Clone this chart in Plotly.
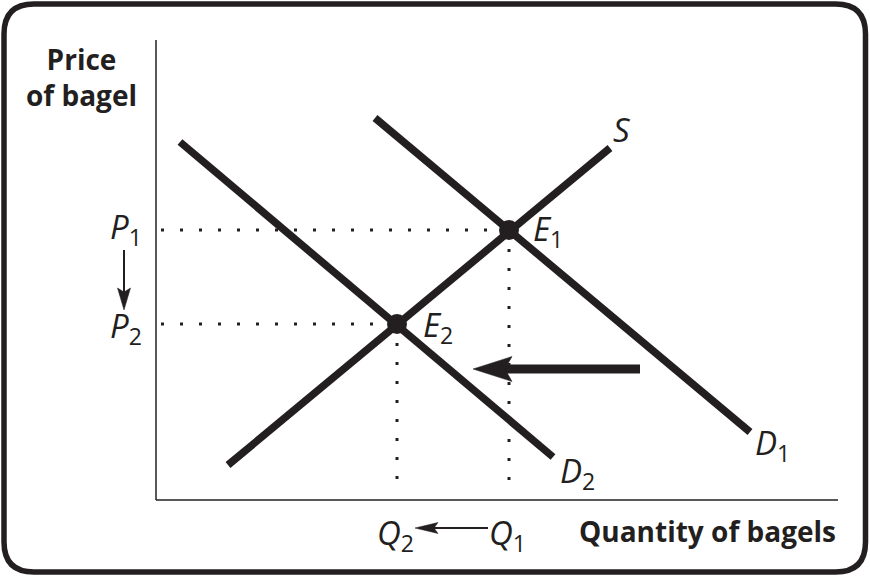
import math
import plotly.graph_objects as go

# ---------------- data (quantity, price in chart units) ----------------
supply_q = [1.44, 9.08]
supply_p = [0.70, 7.04]
demand1_q = [4.38, 11.88]
demand1_p = [7.64, 1.36]
demand2_q = [0.48, 7.94]
demand2_p = [7.16, 0.86]
eq_names = ["E1", "E2"]
eq_q = [7.06, 4.82]
eq_p = [5.40, 3.52]
price_labels = ["P1", "P2"]
quantity_labels = ["Q1", "Q2"]
shift_from_q = 9.68
shift_to_q = 6.34
shift_p = 2.62

# ---------------- layout helpers ----------------
W, H = 870, 577
K = 50.0            # pixels per unit
OX, OY = 156, 500   # pixel position of the origin
INK = "#231f20"

def dx(px):
    return (px - OX) / K

def dy(py):
    return (OY - py) / K

X_RANGE = [dx(0), dx(W)]
Y_RANGE = [dy(H), dy(0)]

fig = go.Figure()

def add_line(xs, ys, width, dash=None):
    fig.add_trace(go.Scatter(x=xs, y=ys, mode="lines", hoverinfo="skip",
                             line=dict(color=INK, width=width, dash=dash)))

def add_arrow(x0, y0, x1, y1, shaft_px, head_len, head_half, notch):
    L = math.hypot(x1 - x0, y1 - y0)
    ux, uy = (x1 - x0) / L, (y1 - y0) / L
    nx, ny = -uy, ux
    sx, sy = x1 - (head_len - notch) * ux, y1 - (head_len - notch) * uy
    bx, by = x1 - head_len * ux, y1 - head_len * uy
    add_line([x0, sx], [y0, sy], shaft_px)
    fig.add_trace(go.Scatter(
        x=[x1, bx + head_half * nx, sx, bx - head_half * nx, x1],
        y=[y1, by + head_half * ny, sy, by - head_half * ny, y1],
        mode="lines", fill="toself", fillcolor=INK,
        line=dict(color=INK, width=0.5), hoverinfo="skip"))

# dotted guide lines
DOT = "3px,16px"
for q, p in zip(eq_q, eq_p):
    add_line([dx(161), q], [p, p], 3, DOT)
    add_line([q, q], [p, dy(490)], 3, DOT)

# curves
add_line(supply_q, supply_p, 7.5)
add_line(demand1_q, demand1_p, 7.5)
add_line(demand2_q, demand2_p, 7.5)

# equilibrium points
fig.add_trace(go.Scatter(x=eq_q, y=eq_p, mode="markers", hoverinfo="skip",
                         marker=dict(size=20, color=INK)))

# shift arrow
add_arrow(shift_from_q, shift_p, shift_to_q, shift_p, 9, 0.78, 0.25, 0.14)
# price fall arrow
add_arrow(dx(124), dy(250), dx(124), dy(310), 2, 0.44, 0.13, 0.08)
# quantity fall arrow
add_arrow(dx(488), dy(528), dx(415), dy(528), 2, 0.46, 0.11, 0.08)

# axes lines
fig.add_shape(type="line", x0=0, y0=0, x1=0, y1=dy(40),
              line=dict(color=INK, width=1.5))
fig.add_shape(type="line", x0=0, y0=0, x1=dx(838), y1=0,
              line=dict(color=INK, width=1.5))

# rounded frame (paper coords)
def pxp(px):
    return px / W

def pyp(py):
    return 1 - py / H

l, r, t, b, rad = 4, 865.5, 4, 572, 30
frame_path = (
    f"M {pxp(l+rad)},{pyp(t)} L {pxp(r-rad)},{pyp(t)} "
    f"Q {pxp(r)},{pyp(t)} {pxp(r)},{pyp(t+rad)} "
    f"L {pxp(r)},{pyp(b-rad)} Q {pxp(r)},{pyp(b)} {pxp(r-rad)},{pyp(b)} "
    f"L {pxp(l+rad)},{pyp(b)} Q {pxp(l)},{pyp(b)} {pxp(l)},{pyp(b-rad)} "
    f"L {pxp(l)},{pyp(t+rad)} Q {pxp(l)},{pyp(t)} {pxp(l+rad)},{pyp(t)} Z"
)
fig.add_shape(type="path", path=frame_path, xref="paper", yref="paper",
              line=dict(color=INK, width=5.5))

FONT = "Open Sans"

def label(text, x, y, xanchor="left", size=33, bold=False, italic=False, align="left"):
    fig.add_annotation(x=x, y=y, xref="x", yref="y", text=text, showarrow=False,
                       xanchor=xanchor, yanchor="middle", align=align,
                       font=dict(family=FONT, size=size, color=INK,
                                 weight="bold" if bold else "normal",
                                 style="italic" if italic else "normal"))

def sub(name):
    if len(name) > 1:
        return f"<i>{name[0]}</i><sub>{name[1:]}</sub>"
    return f"<i>{name}</i>"

label(sub("S"), dx(611), dy(129))
label(sub("D1"), dx(753), dy(444))
label(sub("D2"), dx(558), dy(472))
label(sub(eq_names[0]), dx(531), dy(230))
label(sub(eq_names[1]), dx(421), dy(326))
label(sub(price_labels[0]), dx(108), dy(228))
label(sub(price_labels[1]), dx(108), dy(327))
label(sub(quantity_labels[1]), dx(375), dy(534))
label(sub(quantity_labels[0]), dx(487), dy(534))
label("Price<br>of bagel", dx(81), dy(77), xanchor="center", size=28, bold=True, align="center")
label("Quantity of bagels", dx(838), dy(531), xanchor="right", size=28, bold=True)

fig.update_layout(
    width=W, height=H, margin=dict(l=0, r=0, t=0, b=0),
    paper_bgcolor="white", plot_bgcolor="white", showlegend=False,
    xaxis=dict(range=X_RANGE, visible=False, fixedrange=True),
    yaxis=dict(range=Y_RANGE, visible=False, fixedrange=True),
)

fig.write_html("out.html", config={"displayModeBar": False},
               post_script="document.body.style.margin='0';")
